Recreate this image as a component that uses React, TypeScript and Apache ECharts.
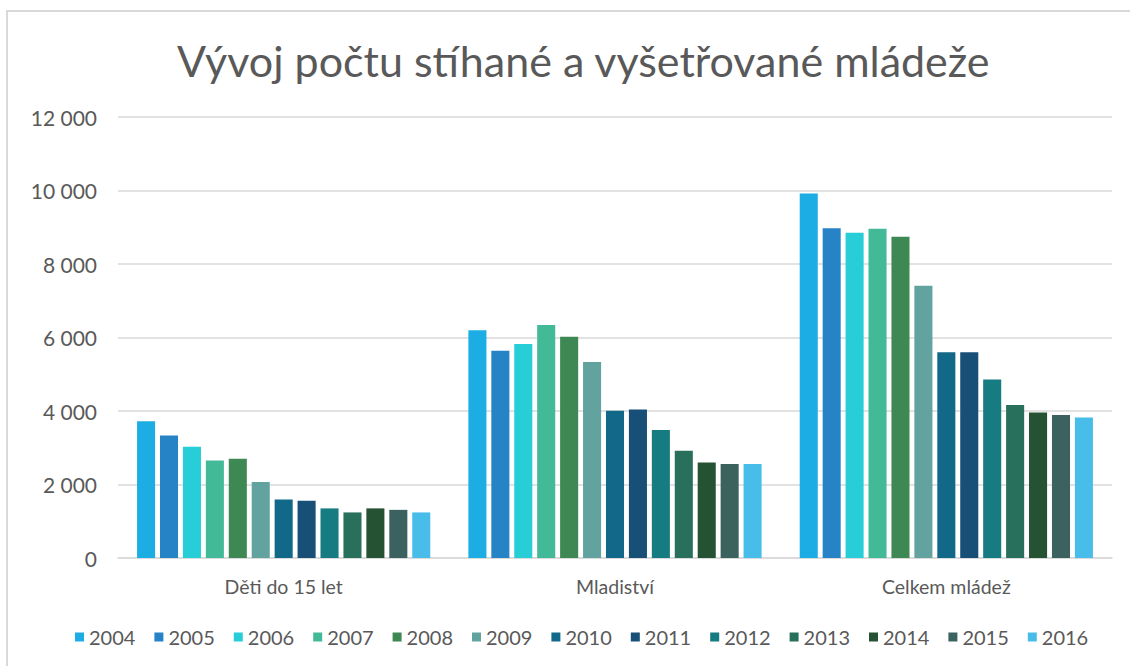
import React, { useEffect, useRef } from "react";
import * as echarts from "echarts";

const categories = ["Děti do 15 let", "Mladiství", "Celkem mládež"];
const years = ["2004", "2005", "2006", "2007", "2008", "2009", "2010", "2011", "2012", "2013", "2014", "2015", "2016"];
const deti = [3720, 3330, 3030, 2650, 2700, 2070, 1590, 1560, 1350, 1240, 1350, 1310, 1240];
const mladistvi = [6200, 5640, 5820, 6340, 6020, 5330, 4010, 4040, 3480, 2920, 2600, 2560, 2560];
const celkem = [9920, 8970, 8850, 8960, 8740, 7410, 5600, 5600, 4860, 4160, 3960, 3890, 3820];
const colors = ["#1CADE4", "#2683C6", "#27CED7", "#42BA97", "#3E8853", "#62A39F", "#116889", "#174F77", "#177C81", "#28705B", "#255232", "#3B625F", "#49BDE9"];
const yTicks = { min: 0, max: 12000, interval: 2000 };

const FONT = "Lato, 'Noto Sans', sans-serif";
const TXT = "#595959";

export default function App() {
  const ref = useRef<HTMLDivElement>(null);
  useEffect(() => {
    const chart = echarts.init(ref.current!, null, { renderer: "svg" });
    chart.setOption({
      animation: false,
      color: colors,
      textStyle: { fontFamily: FONT },
      title: {
        text: "Vývoj počtu stíhané a vyšetřované mládeže",
        left: 172,
        top: 34,
        textStyle: { fontFamily: FONT, fontSize: 43, fontWeight: "normal", color: TXT },
      },
      graphic: [
        {
          type: "rect",
          shape: { x: 7, y: 11, width: 1200, height: 800 },
          style: { fill: "none", stroke: "#D9D9D9", lineWidth: 2 },
          silent: true,
        },
      ],
      legend: {
        top: 622,
        left: 70,
        itemWidth: 9,
        itemHeight: 9,
        itemGap: 19,
        icon: "rect",
        textStyle: { fontFamily: FONT, fontSize: 20, color: TXT },
        data: years,
      },
      grid: { left: 118, right: 18, top: 117, bottom: 108 },
      xAxis: {
        type: "category",
        data: categories,
        axisLine: { lineStyle: { color: "#D9D9D9", width: 1.5 } },
        axisTick: { show: false },
        axisLabel: { color: TXT, fontSize: 19.5, margin: 18, fontFamily: FONT },
      },
      yAxis: {
        type: "value",
        min: yTicks.min,
        max: yTicks.max,
        interval: yTicks.interval,
        axisLine: { show: false },
        axisTick: { show: false },
        splitLine: { lineStyle: { color: "#D9D9D9", width: 1.5 } },
        axisLabel: {
          color: TXT,
          fontSize: 21,
          margin: 21,
          fontFamily: FONT,
          formatter: (v: number) => String(v).replace(/\B(?=(\d{3})+(?!\d))/g, " "),
        },
      },
      series: years.map((y, i) => ({
        name: y,
        type: "bar",
        barGap: "27%",
        barCategoryGap: "11.5%",
        data: [deti[i], mladistvi[i], celkem[i]],
      })),
    });
    return () => chart.dispose();
  }, []);
  return <div ref={ref} style={{ position: "fixed", left: 0, top: 0, width: 1130, height: 666, background: "#fff" }} />;
}
